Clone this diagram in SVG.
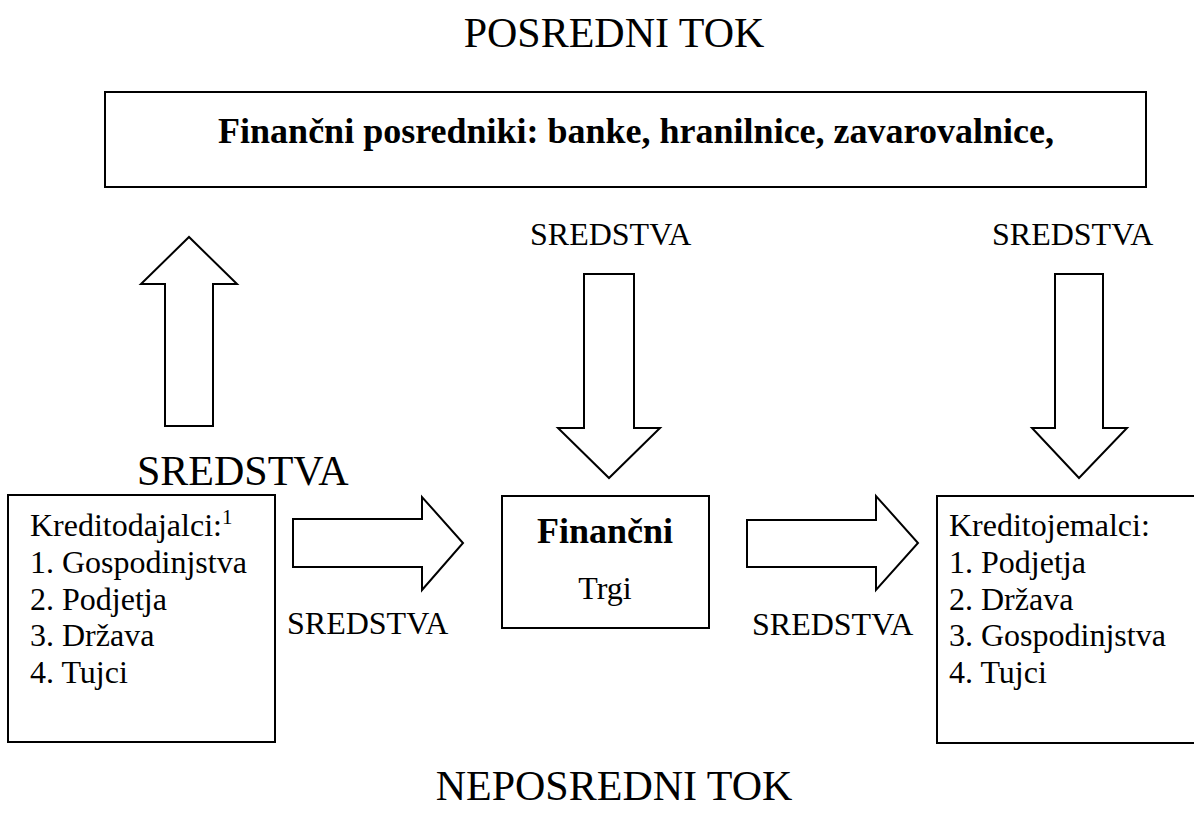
<svg xmlns="http://www.w3.org/2000/svg" width="1194" height="813" viewBox="0 0 1194 813" font-family="'Liberation Serif', serif">
<style>
.box{fill:#fff;stroke:#000;stroke-width:2}
.arr{fill:#fff;stroke:#000;stroke-width:2;stroke-linejoin:miter}
</style>
<rect width="1194" height="813" fill="#fff"/>
<text font-family="'Liberation Serif', serif" font-size="42" x="614" y="47" text-anchor="middle">POSREDNI TOK</text>
<text font-family="'Liberation Serif', serif" font-size="42" x="614" y="800" text-anchor="middle">NEPOSREDNI TOK</text>
<g id="posredniki">
<rect class="box" x="105" y="92" width="1041" height="95"/>
<text font-family="'Liberation Serif', serif" font-size="36" font-weight="bold" x="636" y="143" text-anchor="middle">Finančni posredniki: banke, hranilnice, zavarovalnice,</text>
</g>
<g id="kreditodajalci" font-family="'Liberation Serif', serif" font-size="32">
<rect class="box" x="8" y="495" width="267" height="247"/>
<text x="30" y="536">Kreditodajalci:<tspan font-size="21" dy="-12">1</tspan></text>
<text x="30" y="573">1. Gospodinjstva</text>
<text x="30" y="610">2. Podjetja</text>
<text x="30" y="646">3. Država</text>
<text x="30" y="683">4. Tujci</text>
</g>
<g id="trgi" font-family="'Liberation Serif', serif">
<rect class="box" x="502" y="496" width="207" height="132"/>
<text font-size="36" font-weight="bold" x="605" y="543" text-anchor="middle">Finančni</text>
<text font-size="32" x="605" y="599" text-anchor="middle">Trgi</text>
</g>
<g id="kreditojemalci" font-family="'Liberation Serif', serif" font-size="32">
<path class="box" d="M1200,496 H937 V743 H1200"/>
<text x="949" y="536">Kreditojemalci:</text>
<text x="949" y="573">1. Podjetja</text>
<text x="949" y="610">2. Država</text>
<text x="949" y="646">3. Gospodinjstva</text>
<text x="949" y="683">4. Tujci</text>
</g>
<g id="connectors" font-family="'Liberation Serif', serif" font-size="32">
<path class="arr" d="M165,426 V284 H141 L189,237 L237,284 H213 V426 Z"/>
<text font-size="42" x="137" y="485">SREDSTVA</text>
<path class="arr" d="M584,274 V428 H558 L609,478 L660,428 H634 V274 Z"/>
<text x="530" y="245">SREDSTVA</text>
<path class="arr" d="M1055,274 V428 H1032 L1079,478 L1127,428 H1103 V274 Z"/>
<text x="992" y="245">SREDSTVA</text>
<path class="arr" d="M293,519 H422 V497 L463,543 L422,590 V567 H293 Z"/>
<text x="287" y="634">SREDSTVA</text>
<path class="arr" d="M747,520 H876 V496 L918,543 L876,590 V567 H747 Z"/>
<text x="752" y="635">SREDSTVA</text>
</g>
</svg>
